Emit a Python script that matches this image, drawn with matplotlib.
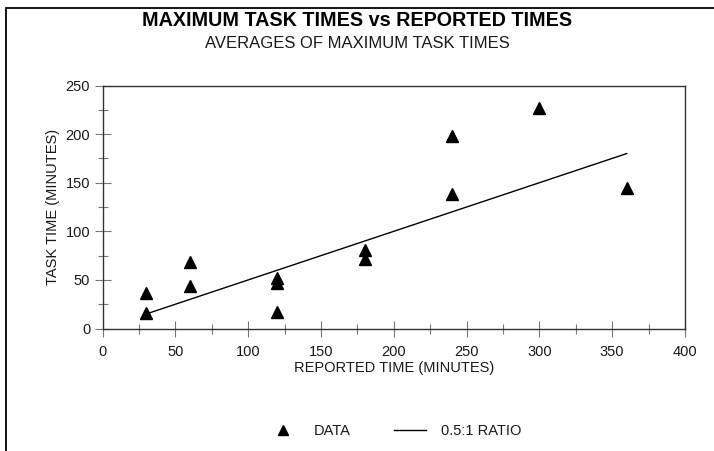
import numpy as np
import matplotlib.pyplot as plt
from matplotlib.patches import Rectangle
from matplotlib.lines import Line2D

plt.rcParams['font.family'] = ['Liberation Sans', 'DejaVu Sans']

# data
reported = [30, 30, 60, 60, 120, 120, 120, 180, 180, 240, 240, 300, 360]
task = [16, 37, 68, 44, 52, 47, 17, 81, 72, 198, 138, 227, 145]
ratio_x = [30, 360]
ratio_y = [15, 180]

xticks = [0, 50, 100, 150, 200, 250, 300, 350, 400]
yticks = [0, 50, 100, 150, 200, 250]

txt = '#1a1a1a'

fig = plt.figure(figsize=(7.14, 4.51), dpi=100)
ax = fig.add_axes([102.7/714, 1-328.5/451, (685-102.7)/714, (328.5-85.5)/451])

# outer frame
fig.patches.append(Rectangle((6/714, -0.01), 1.0, (451-8)/451 + 0.01, transform=fig.transFigure,
                             fill=False, edgecolor='black', linewidth=1.3))

ax.plot(reported, task, linestyle='none', marker='^', markersize=8, color='black')
ax.plot(ratio_x, ratio_y, color='black', linewidth=1)

ax.set_xlim(0, 400)
ax.set_ylim(0, 250)
ax.set_xticks(xticks)
ax.set_yticks(yticks)
ax.set_xticks(np.arange(0, 401, 25), minor=True)
ax.set_yticks(np.arange(0, 251, 25), minor=True)
ax.tick_params(which='major', direction='inout', length=12, width=0.8, color='#777777',
               labelsize=10.5, labelcolor=txt)
ax.tick_params(axis='x', which='major', pad=6)
ax.tick_params(axis='y', which='major', pad=3)
ax.tick_params(which='minor', direction='inout', length=7, width=0.8, color='#777777')
for s in ax.spines.values():
    s.set_linewidth(1.0)
    s.set_color('#333333')

ax.set_xlabel('REPORTED TIME (MINUTES)', fontsize=10.5, color=txt, labelpad=1)
ax.set_ylabel('TASK TIME (MINUTES)', fontsize=10.5, color=txt, labelpad=4)

fig.text(0.5, 1-21/451, 'MAXIMUM TASK TIMES vs REPORTED TIMES', ha='center', va='center',
         fontsize=14.2, fontweight='bold', color='black')
fig.text(0.5, 1-43/451, 'AVERAGES OF MAXIMUM TASK TIMES', ha='center', va='center',
         fontsize=12, color=txt)

handles = [Line2D([], [], linestyle='none', marker='^', markersize=7, color='black'),
           Line2D([], [], color='black', linewidth=1)]
fig.legend(handles, ['DATA', '0.5:1 RATIO'], loc='center', bbox_to_anchor=(394/714, 1-431/451),
           ncol=2, frameon=False, fontsize=10.5, handlelength=2.2, columnspacing=3.0,
           handletextpad=1.0, labelcolor=txt)

fig.savefig('out.png', dpi=100)
